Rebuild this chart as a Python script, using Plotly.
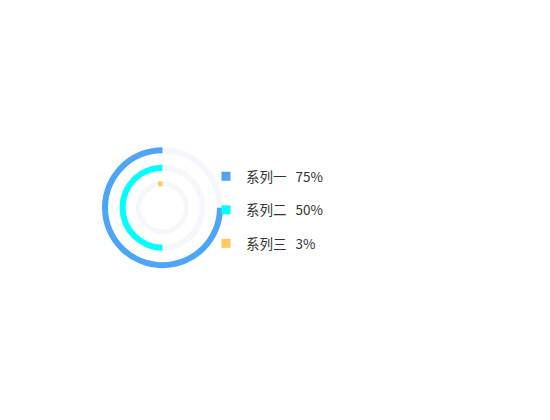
import plotly.graph_objects as go

# 数据
names = ["系列一", "系列二", "系列三"]
percents = [75, 50, 3]
colors = ["#4ea5f5", "#00ffff", "#ffc95e"]
bg_color = "#f6f7fb"

W, H = 550, 420
cx, cy = 154.5, 220.3          # 圆心（像素，y 从底部算）
rings = [(54.5, 60.5), (37, 43), (21.5, 26.5)]  # 内半径, 外半径

fig = go.Figure()

# 进度从 12 点方向逆时针走：先画剩余部分，再画进度
for name, p, c, (r_in, r_out) in zip(names, percents, colors, rings):
    fig.add_trace(go.Pie(
        values=[100 - p, p],
        labels=["剩余", name],
        marker=dict(colors=[bg_color, c], line=dict(width=0)),
        hole=r_in / r_out,
        sort=False,
        direction="clockwise",
        rotation=0,
        textinfo="none",
        hoverinfo="skip",
        showlegend=False,
        domain=dict(
            x=[(cx - r_out) / W, (cx + r_out) / W],
            y=[(cy - r_out) / H, (cy + r_out) / H],
        ),
    ))

# 图例
for i, (name, p, c) in enumerate(zip(names, percents, colors)):
    fig.add_trace(go.Scatter(
        x=[None], y=[None], mode="markers",
        name=f"{name}\u00a0\u00a0\u00a0{p}%",
        marker=dict(symbol="square", size=9, color=c),
        legendgroup=f"g{i}",
        hoverinfo="skip",
    ))

fig.update_layout(
    width=W, height=H,
    margin=dict(l=0, r=0, t=0, b=0),
    paper_bgcolor="white",
    plot_bgcolor="white",
    xaxis=dict(visible=False),
    yaxis=dict(visible=False),
    showlegend=True,
    legend=dict(
        x=198 / W, y=1 - 153 / H,
        xanchor="left", yanchor="top",
        font=dict(family="Noto Sans CJK SC", size=13.5, color="#333333"),
        tracegroupgap=13,
        itemsizing="trace",
        bgcolor="rgba(0,0,0,0)",
    ),
)

fig.write_html("out.html")
